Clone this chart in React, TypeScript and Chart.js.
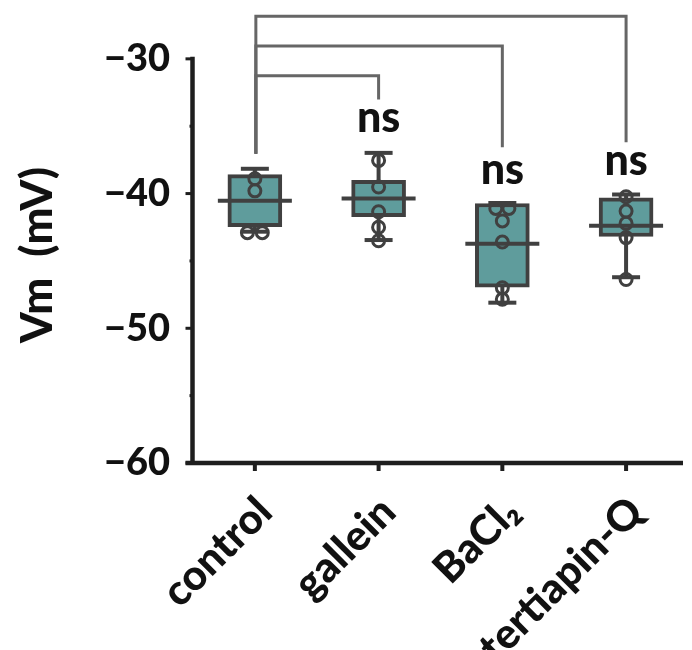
import { useEffect, useRef } from 'react';
import { Chart, registerables } from 'chart.js';

Chart.register(...registerables);

// ---- data ----
const categories = ['control', 'gallein', 'BaCl\u2082', 'tertiapin-Q'];
const whiskerMax = [-38.16, -36.98, -40.7, -40.07];
const q3 = [-38.6, -39.01, -40.74, -40.32];
const median = [-40.54, -40.37, -43.73, -42.38];
const q1 = [-42.45, -41.72, -46.95, -43.19];
const whiskerMin = [-42.83, -43.45, -48.1, -46.21];

const controlPts = [-38.9, -39.8, -42.9, -42.9];
const galleinPts = [-37.54, -39.51, -41.35, -42.5, -43.5];
const bacl2Pts = [-41.1, -41.1, -42.03, -43.6, -47.0, -47.85];
const tertiapinPts = [-40.24, -41.3, -42.21, -43.27, -46.38];
const groupPoints = [controlPts, galleinPts, bacl2Pts, tertiapinPts];
const pointDodge = [
  [0, 0, -0.06, 0.06],
  [0, 0, 0, 0, 0],
  [-0.053, 0.053, 0, 0, 0, 0],
  [0, 0, 0, 0, 0],
];

// significance brackets (all from control)
const bracketTo = [1, 2, 3];
const bracketTop = [-31.25, -29.04, -26.83];
const bracketLeftEnd = -37.05;
const bracketRightEnd = [-33.02, -36.56, -36.19];
const sigText = ['ns', 'ns', 'ns'];
const sigBaseline = [-35.45, -39.26, -38.62];

const yTicks = [-60, -50, -40, -30];
const yMinorTicks = [-55, -45, -35];
const yTitle = 'Vm  (mV)';

const FONT = 'Lato, "Open Sans", sans-serif';
const DARK = '#404040';
const AXIS = '#1e1e1e';

const drawPlugin = {
  id: 'boxExtras',
  beforeDatasetsDraw(chart: any) {
    const { ctx, scales } = chart;
    const x = scales.x, y = scales.y;
    ctx.save();
    ctx.strokeStyle = DARK;
    ctx.lineWidth = 4;
    ctx.lineCap = 'butt';
    for (let i = 0; i < categories.length; i++) {
      const cx = x.getPixelForValue(i);
      ctx.beginPath();
      ctx.moveTo(cx, y.getPixelForValue(whiskerMax[i]));
      ctx.lineTo(cx, y.getPixelForValue(whiskerMin[i]));
      ctx.stroke();
      for (const v of [whiskerMax[i], whiskerMin[i]]) {
        const py = y.getPixelForValue(v);
        ctx.beginPath();
        ctx.moveTo(cx - 14, py);
        ctx.lineTo(cx + 14, py);
        ctx.stroke();
      }
    }
    ctx.restore();
  },
  afterDatasetsDraw(chart: any) {
    const { ctx, scales } = chart;
    const x = scales.x, y = scales.y;
    ctx.save();
    // medians
    ctx.strokeStyle = DARK;
    ctx.lineWidth = 4;
    for (let i = 0; i < categories.length; i++) {
      const cx = x.getPixelForValue(i);
      const py = y.getPixelForValue(median[i]);
      ctx.beginPath();
      ctx.moveTo(cx - 37, py);
      ctx.lineTo(cx + 37, py);
      ctx.stroke();
    }
    // brackets
    ctx.strokeStyle = '#666666';
    ctx.lineWidth = 3;
    ctx.lineJoin = 'miter';
    const x0 = x.getPixelForValue(0) + 1;
    for (let k = 0; k < bracketTo.length; k++) {
      const x1 = x.getPixelForValue(bracketTo[k]);
      ctx.beginPath();
      ctx.moveTo(x0, y.getPixelForValue(bracketLeftEnd));
      ctx.lineTo(x0, y.getPixelForValue(bracketTop[k]));
      ctx.lineTo(x1, y.getPixelForValue(bracketTop[k]));
      ctx.lineTo(x1, y.getPixelForValue(bracketRightEnd[k]));
      ctx.stroke();
    }
    // ns labels
    ctx.fillStyle = '#111111';
    ctx.font = `900 43px ${FONT}`;
    ctx.textAlign = 'center';
    ctx.textBaseline = 'alphabetic';
    for (let k = 0; k < bracketTo.length; k++) {
      ctx.fillText(sigText[k], x.getPixelForValue(bracketTo[k]), y.getPixelForValue(sigBaseline[k]));
    }
    ctx.restore();
  },
  afterDraw(chart: any) {
    const { ctx, scales, chartArea } = chart;
    const y = scales.y, x = scales.x;
    const left = chartArea.left + 0.5;
    const bottom = y.getPixelForValue(-60);
    ctx.save();
    ctx.strokeStyle = AXIS;
    ctx.lineWidth = 4.5;
    ctx.lineCap = 'butt';
    // y axis line
    ctx.beginPath();
    ctx.moveTo(left, y.getPixelForValue(-30) - 2);
    ctx.lineTo(left, bottom);
    ctx.stroke();
    // y ticks
    ctx.lineWidth = 3;
    for (const v of yTicks) {
      const py = y.getPixelForValue(v);
      ctx.beginPath();
      ctx.moveTo(left - 7, py);
      ctx.lineTo(left, py);
      ctx.stroke();
    }
    for (const v of yMinorTicks) {
      const py = y.getPixelForValue(v);
      ctx.beginPath();
      ctx.moveTo(left - 3, py);
      ctx.lineTo(left, py);
      ctx.stroke();
    }
    // x axis line
    ctx.lineWidth = 4.5;
    ctx.beginPath();
    ctx.moveTo(left - 7, bottom);
    ctx.lineTo(chartArea.right, bottom);
    ctx.stroke();
    // x ticks
    ctx.lineWidth = 4;
    for (let i = 0; i < categories.length; i++) {
      const px = x.getPixelForValue(i);
      ctx.beginPath();
      ctx.moveTo(px, bottom);
      ctx.lineTo(px, bottom + 8);
      ctx.stroke();
    }
    // y title
    ctx.fillStyle = '#111111';
    ctx.font = `900 44px ${FONT}`;
    ctx.textAlign = 'center';
    ctx.textBaseline = 'middle';
    ctx.translate(38, 255);
    ctx.rotate(-Math.PI / 2);
    ctx.fillText(yTitle, 0, 0);
    ctx.restore();
  },
};

export default function App() {
  const ref = useRef<HTMLCanvasElement>(null);
  useEffect(() => {
    document.body.style.margin = '0';
    const canvas = ref.current;
    if (!canvas) return;
    const scatterSets = groupPoints.map((pts, i) => ({
      type: 'scatter' as const,
      data: pts.map((v, j) => ({ x: i + pointDodge[i][j], y: v })),
      pointStyle: 'circle',
      pointRadius: 6,
      pointBorderWidth: 3,
      borderColor: DARK,
      backgroundColor: 'rgba(0,0,0,0)',
      order: 1,
    }));
    const chart = new Chart(canvas, {
      type: 'bar',
      data: {
        datasets: [
          {
            type: 'bar',
            data: categories.map((_, i) => ({ x: i, y: [q1[i], q3[i]] })) as any,
            backgroundColor: '#5f9c9c',
            borderColor: DARK,
            borderWidth: 4,
            borderSkipped: false,
            barThickness: 54,
            order: 2,
          } as any,
          ...(scatterSets as any),
        ],
      },
      options: {
        responsive: false,
        animation: false,
        devicePixelRatio: 1,
        layout: { padding: { top: 6, right: 0, left: 0, bottom: 0 } },
        plugins: { legend: { display: false }, tooltip: { enabled: false } },
        scales: {
          x: {
            type: 'linear',
            min: -0.508,
            max: 3.46,
            offset: false,
            grid: { display: false, drawTicks: false },
            border: { display: false },
            afterBuildTicks: (s: any) => {
              s.ticks = categories.map((_, i) => ({ value: i }));
            },
            afterFit: (s: any) => {
              s.height = 187;
              s.paddingLeft = 0;
              s.paddingRight = 0;
              s.paddingTop = 0;
              s.paddingBottom = 0;
            },
            ticks: {
              autoSkip: false,
              minRotation: 45,
              maxRotation: 45,
              padding: 24,
              labelOffset: 10,
              color: '#111111',
              font: { family: FONT, size: 42, weight: '900' },
              callback: (v: any) => categories[v as number] ?? '',
            },
          },
          y: {
            type: 'linear',
            min: -60,
            max: -26.3,
            grid: { display: false, drawTicks: false },
            border: { display: false },
            afterBuildTicks: (s: any) => {
              s.ticks = yTicks.map((v) => ({ value: v }));
            },
            afterFit: (s: any) => {
              s.width = 192;
              s.paddingLeft = 0;
              s.paddingRight = 0;
              s.paddingTop = 0;
              s.paddingBottom = 0;
            },
            ticks: {
              padding: 22,
              color: '#111111',
              font: { family: FONT, size: 38, weight: '900' },
              callback: (v: any) => (v < 0 ? '\u2212' + Math.abs(v) : String(v)),
            },
          },
        },
      } as any,
      plugins: [drawPlugin],
    });
    return () => chart.destroy();
  }, []);
  return (
    <div style={{ width: 692, height: 650 }}>
      <canvas ref={ref} width={692} height={650} style={{ display: 'block' }} />
    </div>
  );
}
